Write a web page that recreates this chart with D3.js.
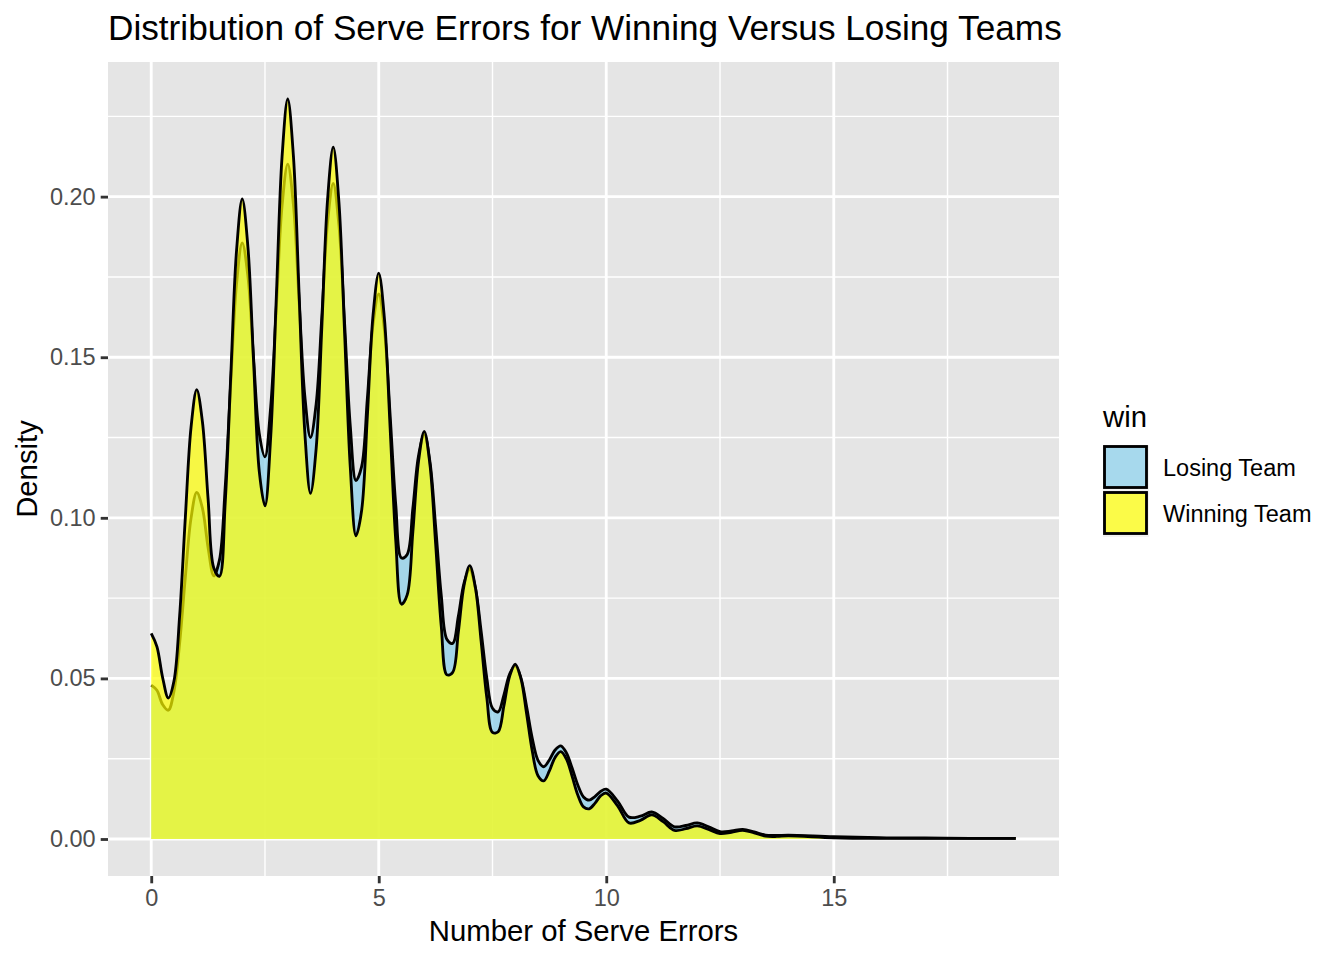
<!DOCTYPE html>
<html>
<head>
<meta charset="utf-8">
<script src="https://cdn.jsdelivr.net/npm/d3@7"></script>
<style>
  html, body { margin: 0; padding: 0; background: #ffffff; }
  svg { display: block; font-family: "Liberation Sans", Arial, Helvetica, sans-serif; }
</style>
</head>
<body>
<svg id="chart" width="1344" height="960"></svg>
<script>
// ---- Data ----
const chartTitle = "Distribution of Serve Errors for Winning Versus Losing Teams";
const xTitle = "Number of Serve Errors";
const yTitle = "Density";
const legendTitle = "win";
const seriesNames = ["Losing Team", "Winning Team"];
const seriesColors = ["#87CEEB", "#FFFF00"];

const xTicks = [0, 5, 10, 15];
const xMinor = [2.5, 7.5, 12.5, 17.5];
const yTicks = [0, 0.05, 0.10, 0.15, 0.20];
const yMinor = [0.025, 0.075, 0.125, 0.175, 0.225];

// sample positions (number of serve errors)
const xs = [
  0, 0.125, 0.25, 0.375, 0.5, 0.625, 0.75, 0.875,
  1, 1.125, 1.25, 1.375, 1.5, 1.625, 1.75, 1.875,
  2, 2.125, 2.25, 2.375, 2.5, 2.625, 2.75, 2.875,
  3, 3.125, 3.25, 3.375, 3.5, 3.625, 3.75, 3.875,
  4, 4.125, 4.25, 4.375, 4.5, 4.625, 4.75, 4.875,
  5, 5.125, 5.25, 5.375, 5.5, 5.625, 5.75, 5.875,
  6, 6.125, 6.25, 6.375, 6.5, 6.625, 6.75, 6.875,
  7, 7.125, 7.25, 7.375, 7.5, 7.625, 7.75, 7.875,
  8, 8.125, 8.25, 8.375, 8.5, 8.625, 8.75, 8.875,
  9, 9.125, 9.25, 9.375, 9.5, 9.625, 9.75, 9.875,
  10, 10.25, 10.5, 10.75, 11, 11.25, 11.5, 11.75,
  12, 12.25, 12.5, 12.75, 13, 13.25, 13.5, 13.75,
  14, 15, 16, 17, 18, 19
];

// density, Losing Team
const losingDensity = [
  0.0479, 0.0463, 0.0419, 0.0401, 0.0460, 0.0611, 0.0816, 0.0999,
  0.1079, 0.1030, 0.0907, 0.0819, 0.0869, 0.1093, 0.1427, 0.1729,
  0.1856, 0.1752, 0.1494, 0.1262, 0.1190, 0.1345, 0.1656, 0.1971,
  0.2101, 0.1975, 0.1675, 0.1380, 0.1250, 0.1355, 0.1628, 0.1920,
  0.2041, 0.1911, 0.1605, 0.1285, 0.1116, 0.1160, 0.1372, 0.1603,
  0.1697, 0.1585, 0.1320, 0.1039, 0.0875, 0.0886, 0.1030, 0.1194,
  0.1260, 0.1175, 0.0974, 0.0757, 0.0621, 0.0609, 0.0694, 0.0797,
  0.0840, 0.0781, 0.0647, 0.0501, 0.0407, 0.0396, 0.0448, 0.0513,
  0.0539, 0.0501, 0.0412, 0.0313, 0.0245, 0.0225, 0.0246, 0.0277,
  0.0290, 0.0268, 0.0221, 0.0168, 0.0131, 0.0121, 0.0132, 0.0148,
  0.0155, 0.0118, 0.0068, 0.0071, 0.0084, 0.0064, 0.0038, 0.0042,
  0.0050, 0.0038, 0.0023, 0.0025, 0.0030, 0.0022, 0.0012, 0.0011,
  0.0012, 0.0007, 0.0004, 0.0003, 0.0002, 0.0002
];

// density, Winning Team
const winningDensity = [
  0.0640, 0.0599, 0.0503, 0.0439, 0.0492, 0.0696, 0.1002, 0.1282,
  0.1399, 0.1299, 0.1058, 0.0844, 0.0818, 0.1045, 0.1448, 0.1832,
  0.1993, 0.1843, 0.1485, 0.1144, 0.1037, 0.1250, 0.1690, 0.2124,
  0.2304, 0.2126, 0.1696, 0.1267, 0.1076, 0.1216, 0.1597, 0.1990,
  0.2154, 0.1983, 0.1575, 0.1157, 0.0944, 0.1024, 0.1317, 0.1631,
  0.1762, 0.1620, 0.1281, 0.0927, 0.0731, 0.0760, 0.0957, 0.1177,
  0.1269, 0.1166, 0.0920, 0.0661, 0.0511, 0.0519, 0.0645, 0.0790,
  0.0851, 0.0782, 0.0616, 0.0440, 0.0332, 0.0334, 0.0414, 0.0506,
  0.0544, 0.0499, 0.0390, 0.0273, 0.0197, 0.0181, 0.0212, 0.0254,
  0.0272, 0.0249, 0.0195, 0.0137, 0.0100, 0.0094, 0.0111, 0.0134,
  0.0143, 0.0103, 0.0050, 0.0058, 0.0075, 0.0054, 0.0027, 0.0032,
  0.0041, 0.0030, 0.0017, 0.0021, 0.0027, 0.0019, 0.0009, 0.0008,
  0.0010, 0.0004, 0.0002, 0.0002, 0.0002, 0.0002
];

const seriesValues = [losingDensity, winningDensity];

// ---- Layout ----
const panel = { left: 108, right: 1059, top: 62, bottom: 876 };
const svg = d3.select("#chart");

const xDataMin = d3.min(xs), xDataMax = d3.max(xs);
const xPad = (xDataMax - xDataMin) * 0.05;
const x = d3.scaleLinear()
  .domain([xDataMin - xPad, xDataMax + xPad])
  .range([panel.left, panel.right]);

const yDataMax = d3.max([d3.max(losingDensity), d3.max(winningDensity)]);
const yPad = yDataMax * 0.05;
const y = d3.scaleLinear()
  .domain([0 - yPad, yDataMax + yPad])
  .range([panel.bottom, panel.top]);

// panel background
svg.append("rect")
  .attr("x", panel.left).attr("y", panel.top)
  .attr("width", panel.right - panel.left)
  .attr("height", panel.bottom - panel.top)
  .attr("fill", "#E5E5E5");

const grid = svg.append("g");
// minor grid
grid.selectAll(".ymin").data(yMinor).enter().append("line")
  .attr("x1", panel.left).attr("x2", panel.right)
  .attr("y1", d => y(d)).attr("y2", d => y(d))
  .attr("stroke", "#ffffff").attr("stroke-width", 1.42);
grid.selectAll(".xmin").data(xMinor).enter().append("line")
  .attr("y1", panel.top).attr("y2", panel.bottom)
  .attr("x1", d => x(d)).attr("x2", d => x(d))
  .attr("stroke", "#ffffff").attr("stroke-width", 1.42);
// major grid
grid.selectAll(".ymaj").data(yTicks).enter().append("line")
  .attr("x1", panel.left).attr("x2", panel.right)
  .attr("y1", d => y(d)).attr("y2", d => y(d))
  .attr("stroke", "#ffffff").attr("stroke-width", 2.84);
grid.selectAll(".xmaj").data(xTicks).enter().append("line")
  .attr("y1", panel.top).attr("y2", panel.bottom)
  .attr("x1", d => x(d)).attr("x2", d => x(d))
  .attr("stroke", "#ffffff").attr("stroke-width", 2.84);

// ---- Density areas ----
const curve = d3.curveCatmullRom.alpha(0.5);
const area = d3.area()
  .x((d, i) => x(xs[i]))
  .y0(y(0))
  .y1(d => y(d))
  .curve(curve);
const line = d3.line()
  .x((d, i) => x(xs[i]))
  .y(d => y(d))
  .curve(curve);

seriesValues.forEach((vals, k) => {
  const g = svg.append("g");
  g.append("path")
    .attr("d", area(vals))
    .attr("fill", seriesColors[k])
    .attr("fill-opacity", 0.7)
    .attr("stroke", "none");
  g.append("path")
    .attr("d", line(vals))
    .attr("fill", "none")
    .attr("stroke", "#000000")
    .attr("stroke-width", 2.84)
    .attr("stroke-linejoin", "round");
});

// ---- Axes ----
const xAxis = svg.append("g")
  .attr("transform", `translate(0,${panel.bottom})`)
  .call(d3.axisBottom(x).tickValues(xTicks).tickFormat(d3.format("d"))
    .tickSize(7.3).tickPadding(6));
const yAxis = svg.append("g")
  .attr("transform", `translate(${panel.left},0)`)
  .call(d3.axisLeft(y).tickValues(yTicks).tickFormat(d3.format(".2f"))
    .tickSize(7.3).tickPadding(5));
[xAxis, yAxis].forEach(a => {
  a.select(".domain").remove();
  a.selectAll(".tick line").attr("stroke", "#333333").attr("stroke-width", 2.84);
  a.selectAll(".tick text")
    .attr("fill", "#4D4D4D")
    .style("font-size", "23.5px")
    .style("font-family", "'Liberation Sans', Arial, Helvetica, sans-serif");
});

// ---- Titles ----
svg.append("text")
  .attr("x", 108).attr("y", 40)
  .style("font-size", "35.2px")
  .attr("fill", "#000")
  .text(chartTitle);

svg.append("text")
  .attr("x", (panel.left + panel.right) / 2).attr("y", 941)
  .attr("text-anchor", "middle")
  .style("font-size", "29.3px")
  .attr("fill", "#000")
  .text(xTitle);

svg.append("text")
  .attr("transform", `translate(37,${(panel.top + panel.bottom) / 2}) rotate(-90)`)
  .attr("text-anchor", "middle")
  .style("font-size", "29.3px")
  .attr("fill", "#000")
  .text(yTitle);

// ---- Legend ----
const legend = svg.append("g");
legend.append("text")
  .attr("x", 1103).attr("y", 427)
  .style("font-size", "29.3px")
  .attr("fill", "#000")
  .text(legendTitle);

const keyTop = [446.5, 492.5];
seriesNames.forEach((name, k) => {
  legend.append("rect")
    .attr("x", 1103).attr("y", keyTop[k] - 1.5)
    .attr("width", 46).attr("height", 46)
    .attr("fill", "#F2F2F2");
  legend.append("rect")
    .attr("x", 1104.5).attr("y", keyTop[k])
    .attr("width", 42).attr("height", 41)
    .attr("fill", seriesColors[k])
    .attr("fill-opacity", 0.7)
    .attr("stroke", "#000")
    .attr("stroke-width", 2.84);
  legend.append("text")
    .attr("x", 1163).attr("y", keyTop[k] + 29.5)
    .style("font-size", "23.5px")
    .attr("fill", "#000")
    .text(name);
});
</script>
</body>
</html>
